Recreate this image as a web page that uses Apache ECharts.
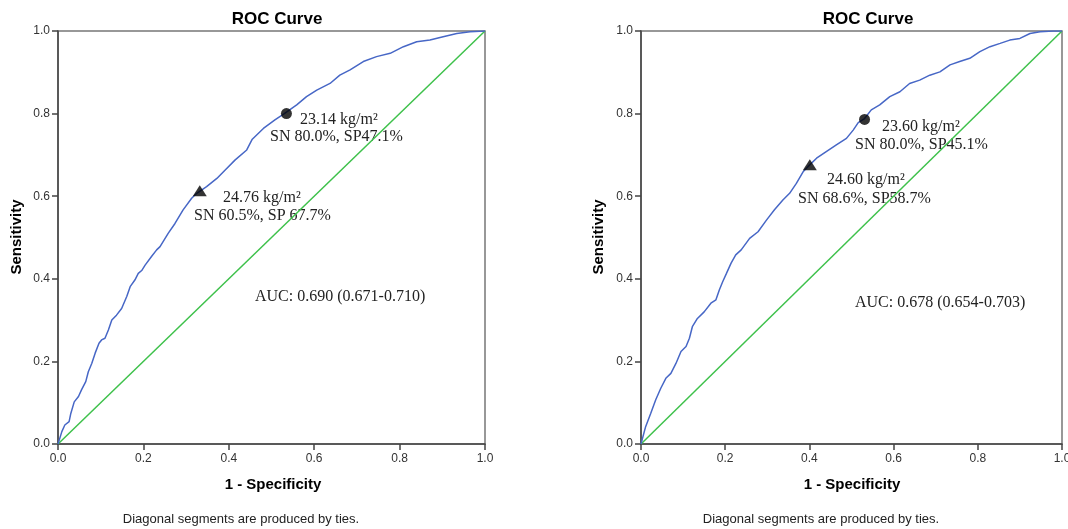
<!DOCTYPE html>
<html>
<head>
<meta charset="utf-8">
<script src="https://cdn.jsdelivr.net/npm/echarts@6/dist/echarts.min.js"></script>
<style>
html,body{margin:0;padding:0;background:#fff;overflow:hidden;}
#chart{width:1068px;height:529px;}
</style>
</head>
<body>
<div id="chart"></div>
<script>
// ---- Data ----
var tickLabels = ['0.0','0.2','0.4','0.6','0.8','1.0'];

var leftFpr = [0,0.009,0.016,0.026,0.030,0.038,0.048,0.055,0.065,0.071,0.079,0.087,0.096,0.102,0.110,0.118,0.126,0.137,0.149,0.161,0.169,0.180,0.188,0.196,0.204,0.219,0.231,0.239,0.258,0.274,0.293,0.313,0.325,0.348,0.372,0.391,0.415,0.442,0.455,0.481,0.508,0.530,0.559,0.582,0.606,0.637,0.660,0.684,0.715,0.746,0.778,0.809,0.840,0.871,0.902,0.934,0.965,1];
var leftTpr = [0,0.030,0.046,0.054,0.074,0.102,0.115,0.131,0.151,0.175,0.195,0.220,0.244,0.252,0.256,0.276,0.300,0.312,0.328,0.357,0.381,0.397,0.413,0.420,0.433,0.454,0.470,0.478,0.510,0.534,0.567,0.595,0.607,0.623,0.643,0.663,0.688,0.712,0.738,0.764,0.785,0.800,0.821,0.841,0.857,0.873,0.893,0.906,0.926,0.938,0.946,0.962,0.974,0.978,0.986,0.994,0.998,1];

var rightFpr = [0,0.011,0.023,0.035,0.047,0.059,0.071,0.083,0.095,0.107,0.115,0.122,0.134,0.150,0.166,0.178,0.186,0.194,0.203,0.214,0.225,0.238,0.258,0.278,0.298,0.317,0.337,0.353,0.369,0.385,0.399,0.417,0.440,0.464,0.488,0.504,0.516,0.531,0.547,0.567,0.591,0.615,0.638,0.662,0.686,0.710,0.734,0.757,0.781,0.805,0.829,0.853,0.876,0.900,0.924,0.948,0.979,1];
var rightTpr = [0,0.042,0.074,0.107,0.135,0.159,0.171,0.195,0.224,0.236,0.256,0.284,0.304,0.320,0.341,0.349,0.373,0.393,0.413,0.438,0.458,0.470,0.498,0.514,0.542,0.567,0.591,0.607,0.631,0.659,0.674,0.692,0.708,0.724,0.740,0.760,0.778,0.788,0.809,0.821,0.841,0.853,0.873,0.881,0.893,0.901,0.918,0.926,0.934,0.950,0.962,0.970,0.978,0.982,0.994,0.998,1.0,1];

var diagonal = [[0,0],[1,1]];

var leftCircle = [0.535, 0.800];
var leftTriangle = [0.332, 0.613];
var rightCircle = [0.531, 0.786];
var rightTriangle = [0.401, 0.676];

var chartTitle = 'ROC Curve';
var xName = '1 - Specificity';
var yName = 'Sensitivity';
var footnote = 'Diagonal segments are produced by ties.';
var leftNotes = ['23.14 kg/m\u00B2','SN 80.0%, SP47.1%','24.76 kg/m\u00B2','SN 60.5%, SP 67.7%','AUC: 0.690 (0.671-0.710)'];
var rightNotes = ['23.60 kg/m\u00B2','SN 80.0%, SP45.1%','24.60 kg/m\u00B2','SN 68.6%, SP58.7%','AUC: 0.678 (0.654-0.703)'];

// ---- Build ----
function zip(a,b){return a.map(function(v,i){return [v,b[i]];});}

var blue = '#4767c6', green = '#3ec14b';
var sansFont = '"Liberation Sans", Arial, sans-serif';
var serifFont = '"Liberation Serif", "Times New Roman", serif';

function axisCommon(idx, margin){
  return {
    type:'value', min:0, max:1, interval:0.2, gridIndex:idx,
    axisLine:{show:true, onZero:false, lineStyle:{color:'#444', width:1.5}},
    axisTick:{show:true, inside:false, length:6, lineStyle:{color:'#444', width:1.5}},
    axisLabel:{color:'#333', fontSize:12, fontFamily:sansFont, margin:margin,
      formatter:function(v){return tickLabels[Math.round(v*5)];}},
    splitLine:{show:false}
  };
}

var xAxes = [axisCommon(0, 9), axisCommon(1, 9)];
var yAxes = [axisCommon(0, 8), axisCommon(1, 8)];

function lineSeries(idx, data, color){
  return {type:'line', xAxisIndex:idx, yAxisIndex:idx, data:data, showSymbol:false, symbol:'none',
    lineStyle:{color:color, width:1.5}, animation:false, silent:true};
}
function markSeries(idx, pt, sym, size){
  return {type:'scatter', xAxisIndex:idx, yAxisIndex:idx, data:[pt], symbol:sym, symbolSize:size,
    itemStyle:{color:'#000'}, animation:false, silent:true, z:5};
}

function txt(x,y,text,font,align,extra){
  var o = {type:'text', x:x, y:y, silent:true,
    style:{text:text, font:font, fill:'#000', textAlign:align||'left', textVerticalAlign:'middle'}};
  if(extra){for(var k in extra){o[k]=extra[k];}}
  return o;
}
var noteFont = '16px ' + serifFont;
function noteStyle(o){o.style.fill='#222';return o;}

var graphics = [
  txt(277, 19, chartTitle, 'bold 17px ' + sansFont, 'center'),
  txt(868, 19, chartTitle, 'bold 17px ' + sansFont, 'center'),
  txt(273, 485, xName, 'bold 15px ' + sansFont, 'center'),
  txt(852, 485, xName, 'bold 15px ' + sansFont, 'center'),
  txt(17, 237, yName, 'bold 15px ' + sansFont, 'center', {rotation:Math.PI/2}),
  txt(599, 237, yName, 'bold 15px ' + sansFont, 'center', {rotation:Math.PI/2}),
  noteStyle(txt(241, 519, footnote, '13px ' + sansFont, 'center')),
  noteStyle(txt(821, 519, footnote, '13px ' + sansFont, 'center')),
  noteStyle(txt(300, 120, leftNotes[0], noteFont)),
  noteStyle(txt(270, 137, leftNotes[1], noteFont)),
  noteStyle(txt(223, 198, leftNotes[2], noteFont)),
  noteStyle(txt(194, 216, leftNotes[3], noteFont)),
  noteStyle(txt(255, 297, leftNotes[4], noteFont)),
  noteStyle(txt(882, 127, rightNotes[0], noteFont)),
  noteStyle(txt(855, 145, rightNotes[1], noteFont)),
  noteStyle(txt(827, 180, rightNotes[2], noteFont)),
  noteStyle(txt(798, 199, rightNotes[3], noteFont)),
  noteStyle(txt(855, 303, rightNotes[4], noteFont))
];

var option = {
  backgroundColor:'#fff',
  animation:false,
  grid:[
    {left:58, top:31, width:427, height:413, show:true, borderColor:'#777', borderWidth:1.5, containLabel:false, outerBoundsMode:'none'},
    {left:641, top:31, width:421, height:413, show:true, borderColor:'#777', borderWidth:1.5, containLabel:false, outerBoundsMode:'none'}
  ],
  xAxis: xAxes,
  yAxis: yAxes,
  series:[
    lineSeries(0, diagonal, green),
    lineSeries(0, zip(leftFpr,leftTpr), blue),
    markSeries(0, leftCircle, 'circle', 11),
    markSeries(0, leftTriangle, 'triangle', [14,11]),
    lineSeries(1, diagonal, green),
    lineSeries(1, zip(rightFpr,rightTpr), blue),
    markSeries(1, rightCircle, 'circle', 11),
    markSeries(1, rightTriangle, 'triangle', [14,11])
  ],
  graphic: graphics
};

var chart = echarts.init(document.getElementById('chart'), null, {renderer:'canvas'});
chart.setOption(option);
</script>
</body>
</html>
